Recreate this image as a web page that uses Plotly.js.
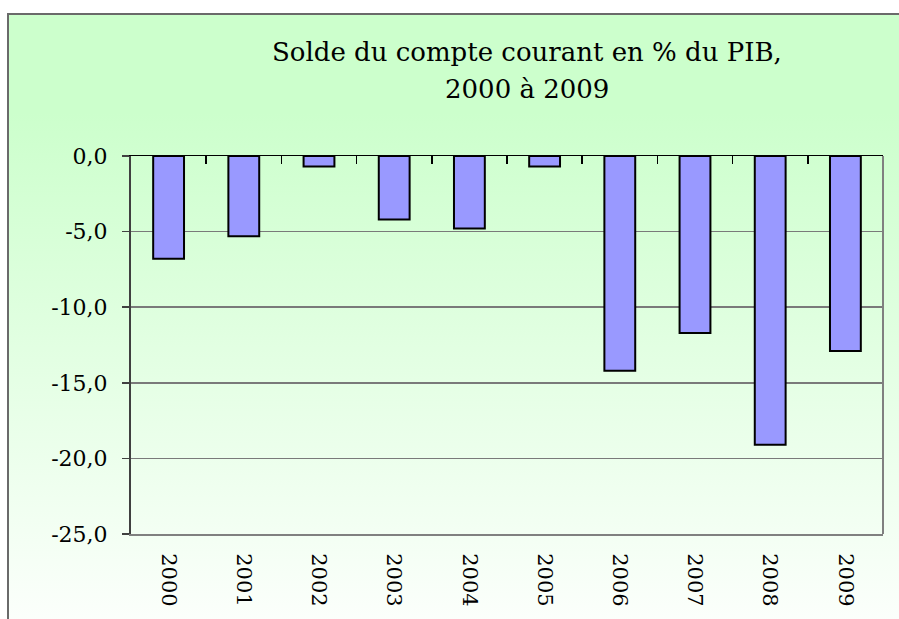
<!DOCTYPE html>
<html>
<head>
<meta charset="utf-8">
<script src="https://cdn.plot.ly/plotly-3.0.1.min.js"></script>
<style>
  html, body { margin: 0; padding: 0; width: 899px; height: 619px; overflow: hidden; background: #ffffff; }
  #frame { position: absolute; left: 7px; top: 13px; width: 1000px; height: 700px;
           border-left: 2px solid #6a6a6a; border-top: 2px solid #6a6a6a;
           background: linear-gradient(to bottom, #CCFFCC 0%, #CCFFCC 14%, #FFFFFF 92%, #FFFFFF 100%); }
  #chart { position: absolute; left: 0; top: 0; width: 899px; height: 619px; }
</style>
</head>
<body>
<div id="frame"></div>
<div id="chart"></div>
<script>
const years = ['2000','2001','2002','2003','2004','2005','2006','2007','2008','2009'];
const solde = [-6.8, -5.3, -0.7, -4.2, -4.8, -0.7, -14.2, -11.7, -19.1, -12.9];
const yTickVals = [0, -5, -10, -15, -20, -25];
const yTickText = ['0,0', '-5,0', '-10,0', '-15,0', '-20,0', '-25,0'];
const titleLine1 = 'Solde du compte courant en % du PIB,';
const titleLine2 = '2000 à 2009';

const serif = 'DejaVu Serif';

const bars = {
  type: 'bar', x: years, y: solde, xaxis: 'x', yaxis: 'y',
  marker: { color: '#9999FF', line: { color: '#000000', width: 2 } },
  hoverinfo: 'x+y', showlegend: false
};
const ghost = {
  type: 'bar', x: years, y: solde, xaxis: 'x2', yaxis: 'y',
  marker: { color: 'rgba(0,0,0,0)', line: { width: 0 } },
  hoverinfo: 'skip', showlegend: false
};

const layout = {
  width: 899, height: 619,
  margin: { l: 131, r: 16, t: 156, b: 85 },
  paper_bgcolor: 'rgba(0,0,0,0)', plot_bgcolor: 'rgba(0,0,0,0)',
  bargap: 0.59,
  showlegend: false,
  font: { family: serif, color: '#000000' },
  xaxis: {
    type: 'category', anchor: 'y', side: 'bottom',
    showline: true, linecolor: '#808080', linewidth: 2,
    ticks: '', tickangle: 90, ticklabelstandoff: 13,
    tickfont: { family: serif, size: 21, color: '#000000' },
    showgrid: false, zeroline: false, fixedrange: true
  },
  xaxis2: {
    type: 'category', overlaying: 'x', anchor: 'y', side: 'top',
    showline: true, linecolor: '#000000', linewidth: 1.5,
    ticks: 'inside', tickson: 'boundaries', ticklen: 8, tickwidth: 1.5, tickcolor: '#000000',
    showticklabels: false, showgrid: false, zeroline: false, fixedrange: true
  },
  yaxis: {
    range: [-25, 0], tickvals: yTickVals, ticktext: yTickText,
    showline: true, linecolor: '#404040', linewidth: 2,
    ticks: 'outside', ticklen: 7, tickwidth: 1.5, tickcolor: '#404040',
    ticklabelstandoff: 10,
    tickfont: { family: serif, size: 22, color: '#000000' },
    showgrid: true, gridcolor: '#7a7a7a', gridwidth: 1.5,
    zeroline: false, fixedrange: true
  },
  shapes: [
    { type: 'line', xref: 'paper', yref: 'paper', x0: 1, x1: 1, y0: 0, y1: 1,
      line: { color: '#808080', width: 2 } }
  ],
  annotations: [
    { text: titleLine1, xref: 'paper', yref: 'paper', x: 0.5266, y: 1.274,
      xanchor: 'center', yanchor: 'middle', showarrow: false,
      font: { family: serif, size: 26, color: '#000000' } },
    { text: titleLine2, xref: 'paper', yref: 'paper', x: 0.5266, y: 1.177,
      xanchor: 'center', yanchor: 'middle', showarrow: false,
      font: { family: serif, size: 26, color: '#000000' } }
  ]
};

Plotly.newPlot('chart', [ghost, bars], layout, { displayModeBar: false, staticPlot: true });
</script>
</body>
</html>
